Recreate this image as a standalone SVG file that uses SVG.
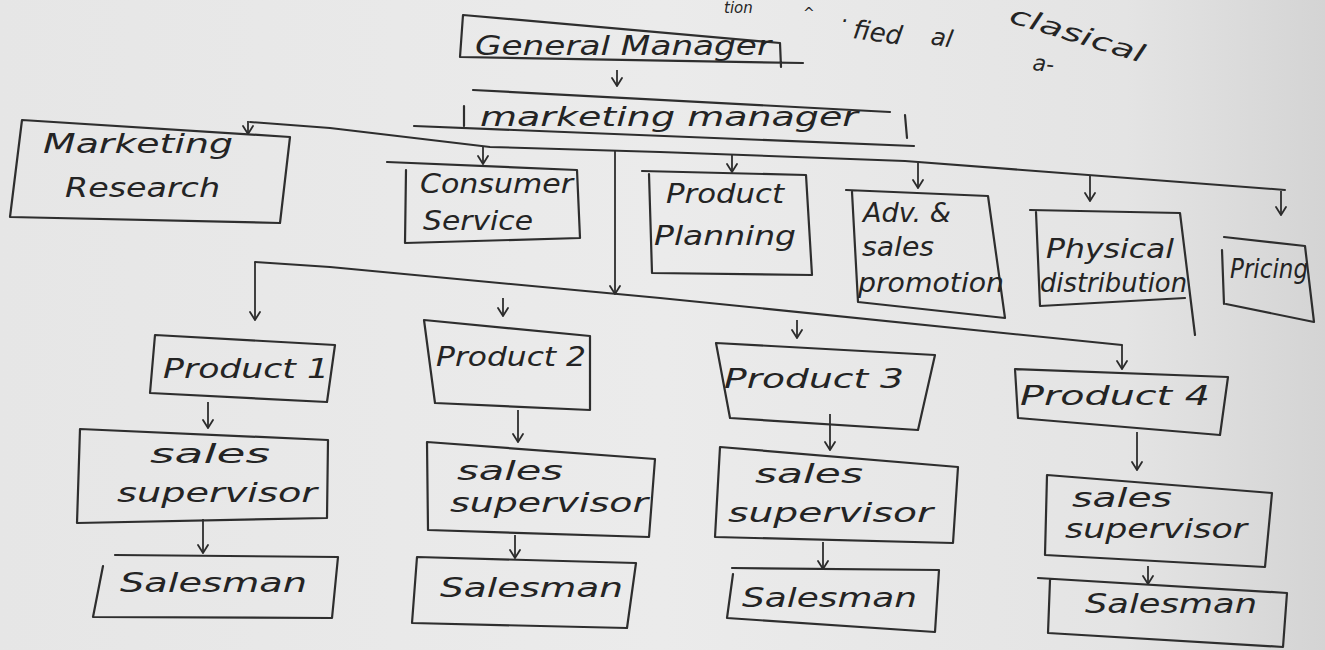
<svg xmlns="http://www.w3.org/2000/svg" width="1325" height="650" viewBox="0 0 1325 650">
  <defs>
    <linearGradient id="paper" x1="0" y1="0" x2="1" y2="0">
      <stop offset="0" stop-color="#e6e6e6"/>
      <stop offset="0.5" stop-color="#ebebeb"/>
      <stop offset="0.85" stop-color="#e4e4e4"/>
      <stop offset="1" stop-color="#d4d4d4"/>
    </linearGradient>
    <!-- open V arrowhead, drawn along +x so it follows the line direction -->
    <marker id="tick" viewBox="0 0 12 12" refX="11" refY="6" markerWidth="12" markerHeight="12" markerUnits="userSpaceOnUse" orient="auto">
      <path d="M3,1 L11,6 L3,11" fill="none" stroke="#2b2b2b" stroke-width="1.8" stroke-linecap="round"/>
    </marker>
  </defs>
  <style>
    .box { fill: none; stroke: #2e2e2e; stroke-width: 2.2; stroke-linejoin: round; stroke-linecap: round; }
    .line { fill: none; stroke: #2e2e2e; stroke-width: 2; stroke-linecap: round; }
    .arr { fill: none; stroke: #2e2e2e; stroke-width: 1.8; marker-end: url(#tick); }
    .t { font-family: "DejaVu Sans", sans-serif; font-style: italic; font-size: 26px; fill: #242424; }
    .s { font-family: "DejaVu Sans", sans-serif; font-style: italic; font-size: 22px; fill: #242424; }
  </style>
  <rect width="1325" height="650" fill="url(#paper)"/>

  <!-- stray notes along the top edge -->
  <g id="notes" class="s">
    <text x="724" y="13" font-size="15">tion</text>
    <text x="803" y="18" font-size="14">^</text>
    <text x="842" y="22">.</text>
    <text x="852" y="38" font-size="26" transform="rotate(8 852 38)">fied</text>
    <text x="930" y="44" font-size="24" transform="rotate(10 930 44)">al</text>
    <text x="1008" y="22" font-size="25" transform="rotate(17 1008 22)" textLength="140" lengthAdjust="spacingAndGlyphs">clasical</text>
    <text x="1032" y="70" font-size="22" transform="rotate(6 1032 70)">a-</text>
  </g>

  <!-- connectors -->
  <g id="connectors">
    <line class="arr" x1="617" y1="70" x2="617" y2="86"/>
    <!-- department bus -->
    <path class="line" d="M250,122 L330,128 L490,147 L660,152 L905,161 L1285,190"/>
    <line class="arr" x1="248" y1="121" x2="248" y2="134"/>
    <line class="arr" x1="483" y1="146" x2="483" y2="164"/>
    <line class="arr" x1="732" y1="155" x2="732" y2="172"/>
    <line class="arr" x1="918" y1="163" x2="918" y2="188"/>
    <line class="arr" x1="1090" y1="176" x2="1090" y2="201"/>
    <line class="arr" x1="1281" y1="191" x2="1281" y2="215"/>
    <!-- trunk down to the product bus -->
    <line class="arr" x1="615" y1="150" x2="615" y2="294"/>
    <path class="line" d="M255,262 L330,267 L660,298 L1122,345"/>
    <line class="arr" x1="255" y1="262" x2="255" y2="320"/>
    <line class="arr" x1="503" y1="298" x2="503" y2="316"/>
    <line class="arr" x1="797" y1="320" x2="797" y2="338"/>
    <line class="arr" x1="1122" y1="345" x2="1122" y2="369"/>
    <!-- product to supervisor to salesman -->
    <line class="arr" x1="208" y1="402" x2="208" y2="428"/>
    <line class="arr" x1="203" y1="519" x2="203" y2="553"/>
    <line class="arr" x1="518" y1="410" x2="518" y2="442"/>
    <line class="arr" x1="515" y1="535" x2="515" y2="558"/>
    <line class="arr" x1="830" y1="414" x2="830" y2="450"/>
    <line class="arr" x1="823" y1="542" x2="823" y2="569"/>
    <line class="arr" x1="1137" y1="432" x2="1137" y2="470"/>
    <line class="arr" x1="1148" y1="566" x2="1148" y2="584"/>
  </g>

  <g id="general-manager">
    <path class="box" d="M463,15 L780,43 M463,15 L460,57 L803,63 M780,43 L781,67"/>
    <text class="t" x="475" y="55" font-size="27" textLength="296" lengthAdjust="spacingAndGlyphs">General Manager</text>
  </g>

  <g id="marketing-manager">
    <path class="box" d="M473,90 L890,112 M464,106 L464,126 M414,126 L914,146 M905,115 L907,138"/>
    <text class="t" x="480" y="126" font-size="28" textLength="378" lengthAdjust="spacingAndGlyphs">marketing manager</text>
  </g>

  <g id="marketing-research">
    <polygon class="box" points="22,120 290,137 280,223 10,217"/>
    <text class="t" x="43" y="153" font-size="28" textLength="190" lengthAdjust="spacingAndGlyphs">Marketing</text>
    <text class="t" x="65" y="197" font-size="28" textLength="155" lengthAdjust="spacingAndGlyphs">Research</text>
  </g>

  <g id="consumer-service">
    <path class="box" d="M387,162 L577,170 L580,238 L405,243 L406,170"/>
    <text class="t" x="420" y="193" font-size="23" textLength="153" lengthAdjust="spacingAndGlyphs">Consumer</text>
    <text class="t" x="423" y="230" font-size="23" textLength="110" lengthAdjust="spacingAndGlyphs">Service</text>
  </g>

  <g id="product-planning">
    <path class="box" d="M642,171 L806,175 L812,275 L652,273 L649,174"/>
    <text class="t" x="666" y="203" font-size="25" textLength="118" lengthAdjust="spacingAndGlyphs">Product</text>
    <text class="t" x="654" y="245" font-size="25" textLength="142" lengthAdjust="spacingAndGlyphs">Planning</text>
  </g>

  <g id="adv-sales-promotion">
    <path class="box" d="M846,190 L988,196 L1005,318 L858,302 L852,192"/>
    <text class="t" x="863" y="222" font-size="23" textLength="88" lengthAdjust="spacingAndGlyphs">Adv. &amp;</text>
    <text class="t" x="862" y="256" font-size="23" textLength="72" lengthAdjust="spacingAndGlyphs">sales</text>
    <text class="t" x="858" y="292" font-size="22" textLength="146" lengthAdjust="spacingAndGlyphs">promotion</text>
  </g>

  <g id="physical-distribution">
    <path class="box" d="M1030,210 L1180,213 L1195,335 M1185,298 L1040,306 L1036,212"/>
    <text class="t" x="1046" y="258" font-size="23" textLength="128" lengthAdjust="spacingAndGlyphs">Physical</text>
    <text class="t" x="1040" y="292" font-size="21" textLength="147" lengthAdjust="spacingAndGlyphs">distribution</text>
  </g>

  <g id="pricing">
    <path class="box" d="M1224,237 L1305,246 L1314,322 L1226,304 M1222,250 L1224,304"/>
    <text class="t" x="1230" y="278" font-size="20" textLength="78" lengthAdjust="spacingAndGlyphs">Pricing</text>
  </g>

  <g id="product-1">
    <polygon class="box" points="155,335 335,345 327,402 150,393"/>
    <text class="t" x="163" y="378" font-size="27" textLength="166" lengthAdjust="spacingAndGlyphs">Product 1</text>
  </g>
  <g id="product-2">
    <polygon class="box" points="424,320 590,336 590,410 435,403"/>
    <text class="t" x="436" y="366" font-size="27" textLength="150" lengthAdjust="spacingAndGlyphs">Product 2</text>
  </g>
  <g id="product-3">
    <polygon class="box" points="716,343 935,355 918,430 730,418"/>
    <text class="t" x="724" y="388" font-size="28" textLength="180" lengthAdjust="spacingAndGlyphs">Product 3</text>
  </g>
  <g id="product-4">
    <polygon class="box" points="1015,369 1228,377 1220,435 1018,418"/>
    <text class="t" x="1020" y="405" font-size="26" textLength="190" lengthAdjust="spacingAndGlyphs">Product 4</text>
  </g>

  <g id="sales-supervisor-1">
    <polygon class="box" points="80,429 328,440 327,518 77,523"/>
    <text class="t" x="150" y="463" font-size="28" textLength="120" lengthAdjust="spacingAndGlyphs">sales</text>
    <text class="t" x="117" y="502" font-size="28" textLength="200" lengthAdjust="spacingAndGlyphs">supervisor</text>
  </g>
  <g id="sales-supervisor-2">
    <polygon class="box" points="427,442 655,459 649,537 428,530"/>
    <text class="t" x="457" y="480" font-size="28" textLength="106" lengthAdjust="spacingAndGlyphs">sales</text>
    <text class="t" x="450" y="512" font-size="28" textLength="198" lengthAdjust="spacingAndGlyphs">supervisor</text>
  </g>
  <g id="sales-supervisor-3">
    <polygon class="box" points="720,447 958,467 953,543 715,537"/>
    <text class="t" x="755" y="483" font-size="28" textLength="108" lengthAdjust="spacingAndGlyphs">sales</text>
    <text class="t" x="728" y="522" font-size="28" textLength="205" lengthAdjust="spacingAndGlyphs">supervisor</text>
  </g>
  <g id="sales-supervisor-4">
    <polygon class="box" points="1047,475 1272,493 1265,567 1045,555"/>
    <text class="t" x="1072" y="507" font-size="28" textLength="100" lengthAdjust="spacingAndGlyphs">sales</text>
    <text class="t" x="1065" y="538" font-size="28" textLength="182" lengthAdjust="spacingAndGlyphs">supervisor</text>
  </g>

  <g id="salesman-1">
    <path class="box" d="M115,555 L338,557 L332,618 L93,617 L103,566"/>
    <text class="t" x="120" y="592" font-size="30" textLength="187" lengthAdjust="spacingAndGlyphs">Salesman</text>
  </g>
  <g id="salesman-2">
    <polygon class="box" points="417,557 636,563 627,628 412,623"/>
    <text class="t" x="440" y="597" font-size="28" textLength="183" lengthAdjust="spacingAndGlyphs">Salesman</text>
  </g>
  <g id="salesman-3">
    <path class="box" d="M732,568 L939,570 L935,632 L727,618 L733,574"/>
    <text class="t" x="742" y="607" font-size="28" textLength="175" lengthAdjust="spacingAndGlyphs">Salesman</text>
  </g>
  <g id="salesman-4">
    <path class="box" d="M1038,578 L1287,593 L1283,647 L1048,633 L1050,580"/>
    <text class="t" x="1085" y="613" font-size="28" textLength="172" lengthAdjust="spacingAndGlyphs">Salesman</text>
  </g>
</svg>
